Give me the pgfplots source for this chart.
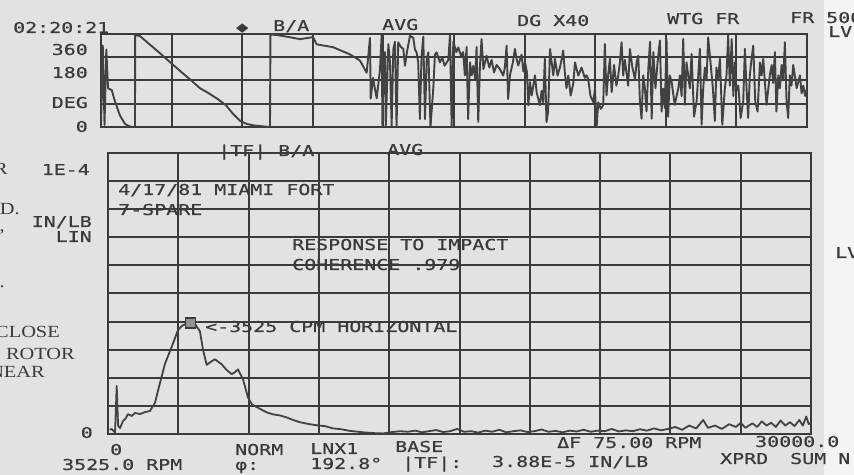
\documentclass[border=0pt]{standalone}
\usepackage{pgfplots}
\pgfplotsset{compat=1.18}
\usepackage{fontspec}
\newfontfamily\plt[FakeStretch=1.33,FakeBold=0.6]{DejaVu Sans Mono}
\newfontfamily\typ[FakeStretch=1.2]{Liberation Serif}
\definecolor{paper}{RGB}{226,226,223}
\definecolor{ink}{RGB}{58,58,58}
\definecolor{trace}{RGB}{66,66,66}

\pgfplotsset{ana/.style={
    scale only axis, clip=true,
    axis line style={ink, line width=2.2bp},
    grid=major, major grid style={ink, line width=2bp},
    xmin=0, xmax=30000, xtick={0,3000,...,30000},
    xticklabels=\empty, yticklabels=\empty,
    scaled ticks=false, major tick length=0pt,
}}
\tikzset{t/.style={anchor=base west, inner sep=0pt, text=ink, font=\plt\fontsize{15bp}{18bp}\selectfont},
         r/.style={t, anchor=base east},
         m/.style={anchor=base east, inner sep=0pt, text=ink, font=\typ\fontsize{17bp}{20bp}\selectfont}}

\begin{document}
\begin{tikzpicture}
\fill[paper] (0,0) rectangle (854bp,475bp);
\fill[paper!40!white] (824bp,0) rectangle (854bp,475bp);

% phase (upper trace)
\begin{axis}[ana, at={(101bp,348bp)}, anchor=south west, width=706bp, height=93bp,
    ymin=0, ymax=360, ytick={0,90,...,360}]
\addplot[trace, line width=1.9bp, line join=round] coordinates {
(0,0) (75,315) (150,8) (225,300) (300,150) (455,143) (595,99) (807,44) (1020,12)
(1150,5) (1304,0) (1445,1) (1450,356) (1657,352) (2000,325) (2500,286) (3059,241)
(3500,206) (3800,183) (4207,150) (4500,135) (4916,111) (5300,85) (5609,51) (5906,24)
(6190,12) (6500,6) (7040,1) (7181,0) (7200,358) (7465,356) (8000,348) (8457,340)
(9008,348) (9165,320) (9858,309) (10580,281) (11005,257) (11290,210) (11430,345)
(11460,110) (11557,190) (11714,111) (11855,222)
(11925,355) (11960,5) (12000,200) (12067,290) (12100,3) (12210,321) (12280,250)
(12350,5) (12420,300) (12490,330) (12560,2) (12630,328) (12740,310) (12846,302)
(12917,237) (13000,290) (13130,353) (13270,345) (13340,300) (13410,289) (13480,250)
(13550,31) (13620,270) (13695,350) (13766,30) (13840,260) (13910,289) (14000,0)
(14120,150) (14190,280) (14260,289) (14400,250) (14500,270) (14600,237) (14760,260)
(14830,355) (14900,2) (14970,330) (15100,290) (15180,308) (15300,276) (15390,290)
(15460,200) (15535,310) (15600,31) (15680,250) (15750,200) (15820,237) (15900,186)
(15960,310) (16030,20) (16100,230) (16170,340) (16250,224) (16385,276) (16500,230)
(16600,260) (16700,211) (16810,240) (16950,224) (17090,199) (17160,230) (17235,315)
(17300,108) (17377,200) (17500,250) (17590,302) (17660,263) (17730,238) (17870,280)
(17950,215) (18015,250) (18100,212) (18160,84) (18230,174) (18300,122) (18370,160)
(18440,200) (18510,135) (18580,109) (18650,84) (18720,140) (18790,96) (18860,264)
(18930,19) (19000,60) (19080,302) (19150,250) (19220,200) (19290,264) (19400,199)
(19500,230) (19570,260) (19640,296) (19710,211) (19780,150) (19855,199) (19960,122)
(20070,170) (20140,250) (20280,199) (20420,230) (20560,190) (20630,200) (20700,186)
(20800,120) (20920,96) (20990,148) (21060,0) (21130,96) (21240,70) (21340,85)
(21410,321) (21480,122) (21550,200) (21625,264) (21700,135) (21800,240) (21900,160)
(21980,200) (22050,250) (22120,328) (22190,199) (22260,260) (22330,210) (22400,160)
(22475,302) (22580,230) (22690,186) (22760,250) (22830,276) (22900,100) (22970,32)
(23040,200) (23110,150) (23180,60) (23260,230) (23330,330) (23400,32) (23470,290)
(23560,150) (23650,250) (23750,335) (23820,60) (23890,149) (23960,73) (24030,340)
(24100,40) (24170,200) (24245,175) (24380,86) (24530,150) (24600,200) (24670,120)
(24740,341) (24810,86) (24880,250) (24950,200) (25020,150) (25095,283) (25200,40)
(25310,100) (25380,200) (25450,303) (25520,9) (25590,150) (25660,230) (25730,180)
(25800,347) (25900,250) (26000,150) (26085,23) (26150,230) (26220,180) (26300,264)
(26400,9) (26510,150) (26580,200) (26650,354) (26720,160) (26800,340) (26870,120)
(26935,250) (27000,140) (27080,160) (27180,35) (27290,100) (27360,303) (27430,150)
(27500,35) (27570,200) (27640,260) (27715,315) (27800,100) (27900,60) (28000,250)
(28070,200) (28140,264) (28280,86) (28420,200) (28500,240) (28560,170) (28635,290)
(28700,60) (28780,200) (28850,150) (28920,240) (28990,180) (29060,328) (29130,100)
(29200,35) (29270,200) (29340,160) (29415,240) (29560,150) (29700,200) (29770,130)
(29840,160) (29920,120) (30000,150)
};
\end{axis}

% |TF| magnitude (lower trace), units of 1E-5 IN/LB
\begin{axis}[ana, at={(108bp,41bp)}, anchor=south west, width=703bp, height=281bp,
    ymin=0, ymax=10, ytick={0,1,...,10}]
\addplot[trace, line width=1.8bp, line join=round] coordinates {
(75,0.15) (160,0.18) (300,0.05) (371,1.71) (430,0.3) (512,0.21) (640,0.46) (750,0.55)
(853,0.71) (1011,0.64) (1152,0.75) (1365,0.71) (1579,0.78) (1792,0.82) (2006,1.11)
(2219,1.82) (2432,2.5) (2718,3.1) (2987,3.7) (3158,3.85) (3328,3.92) (3525,3.9)
(3712,3.92) (3925,3.65) (4054,3.0) (4211,2.46) (4352,2.55) (4566,2.66) (4852,2.48)
(5035,2.3) (5278,2.13) (5419,2.2) (5547,2.3) (5760,1.95) (5974,1.3) (6144,1.05)
(6345,0.96) (6614,0.84) (6772,0.77) (7041,0.7) (7339,0.66) (7625,0.59) (7894,0.5)
(8193,0.42) (8534,0.36) (8905,0.31) (9260,0.28) (9601,0.2) (9942,0.17) (10326,0.11)
(10667,0.08) (11038,0.05) (11393,0.03) (11734,0.02) (12033,0.06) (12460,0.1)
(12800,0.08) (13100,0.12) (13400,0.06) (13700,0.1) (14000,0.14) (14300,0.07)
(14600,0.1) (14900,0.18) (15200,0.08) (15500,0.1) (15800,0.05) (16100,0.12)
(16400,0.08) (16700,0.15) (17000,0.06) (17300,0.1) (17600,0.13) (17900,0.07)
(18200,0.1) (18500,0.16) (18800,0.08) (19100,0.11) (19400,0.06) (19700,0.12)
(20000,0.09) (20300,0.15) (20600,0.08) (20900,0.12) (21200,0.1) (21500,0.18)
(21800,0.09) (22100,0.13) (22400,0.1) (22700,0.17) (23000,0.12) (23300,0.2)
(23600,0.13) (23900,0.18) (24200,0.25) (24500,0.15) (24800,0.3) (25100,0.2)
(25400,0.5) (25600,0.22) (25900,0.3) (26200,0.18) (26500,0.35) (26800,0.25)
(27000,0.4) (27200,0.22) (27500,0.38) (27700,0.25) (27900,0.45) (28100,0.3)
(28300,0.4) (28500,0.25) (28700,0.48) (28900,0.3) (29100,0.42) (29300,0.28)
(29500,0.5) (29650,0.3) (29800,0.62) (29900,0.35) (30000,0.4)
};
\addplot[only marks, mark=square*, mark size=5bp, ink, mark options={fill=ink!55, line width=1.2bp}]
  coordinates {(3525,3.95)};
\end{axis}

% annotations, positioned in pixel units from the top left
\begin{scope}[x=1bp, y=-1bp, shift={(0,475bp)}]
\node[t] at (13,33) {02:20:21};
\node[t] at (236,32) {◆};
\node[t] at (273,31) {B/A};
\node[t] at (382,30) {AVG};
\node[t] at (517,26) {DG X40};
\node[t] at (667,24) {WTG FR};
\node[t] at (790,23) {FR 500};
\node[t] at (828,37) {LV};
\node[r] at (88,55) {360};
\node[r] at (88,78) {180};
\node[r] at (88,108) {DEG};
\node[r] at (88,132) {0};

\node[t] at (218,156) {|TF| B/A};
\node[t] at (387,155) {AVG};
\node[t] at (118,195) {4/17/81 MIAMI FORT};
\node[t] at (118,215) {7-SPARE};
\node[t] at (292,250) {RESPONSE TO IMPACT};
\node[t] at (292,270) {COHERENCE .979};
\node[t] at (205,332) {<-3525 CPM HORIZONTAL};
\node[r] at (90,175) {1E-4};
\node[r] at (92,227) {IN/LB};
\node[r] at (92,242) {LIN};
\node[r] at (93,438) {0};
\node[t] at (835,258) {LV};

\node[t] at (110,455) {0};
\node[t] at (235,455) {NORM};
\node[t] at (310,454) {LNX1};
\node[t] at (395,452) {BASE};
\node[t] at (557,448) {ΔF 75.00 RPM};
\node[t] at (755,447) {30000.0};
\node[t] at (62,470) {3525.0 RPM};
\node[t] at (235,470) {φ:};
\node[t] at (310,469) {192.8°};
\node[t] at (402,468) {|TF|:};
\node[t] at (492,467) {3.88E-5 IN/LB};
\node[t] at (720,464) {XPRD};
\node[t] at (790,464) {SUM N};

\node[m] at (8,175) {R};
\node[m] at (20,215) {D.};
\node[m] at (5,232) {,};
\node[m] at (5,288) {.};
\node[m] at (60,338) {CLOSE};
\node[m] at (75,360) {ROTOR};
\node[m] at (45,378) {NEAR};
\end{scope}

\pgfresetboundingbox
\path[use as bounding box] (0,0) rectangle (854bp,475bp);
\end{tikzpicture}
\end{document}
